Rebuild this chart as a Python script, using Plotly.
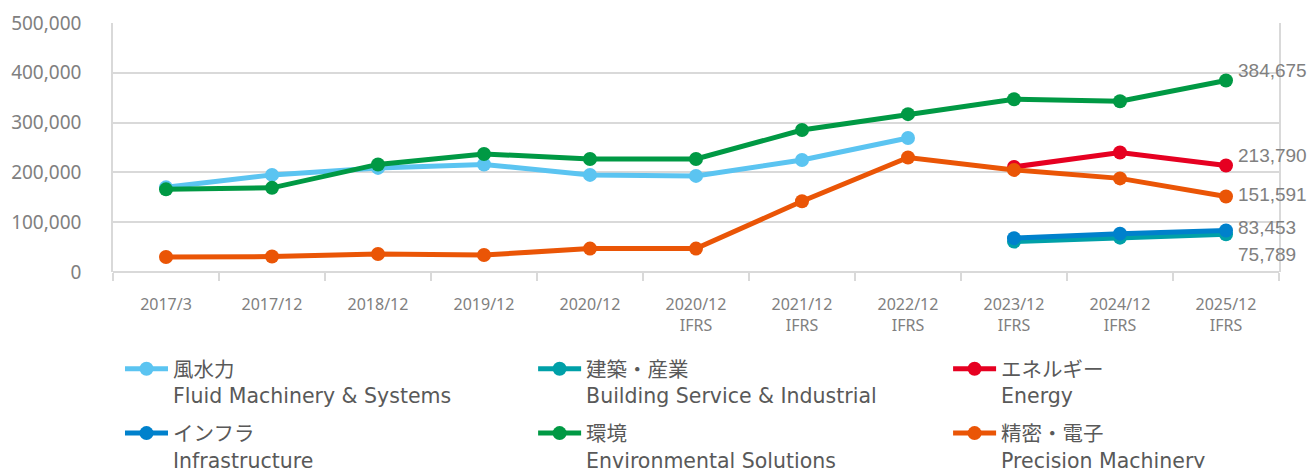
import plotly.graph_objects as go

periods = ["2017/3", "2017/12", "2018/12", "2019/12", "2020/12", "2020/12 IFRS",
           "2021/12", "2022/12", "2023/12", "2024/12", "2025/12"]
tick_text = ["2017/3", "2017/12", "2018/12", "2019/12", "2020/12", "2020/12<br>IFRS",
             "2021/12<br>IFRS", "2022/12<br>IFRS", "2023/12<br>IFRS", "2024/12<br>IFRS", "2025/12<br>IFRS"]

fluid = [170000, 195000, 209000, 216000, 195000, 193000, 225000, 269000, None, None, None]
building = [None] * 8 + [61000, 69000, 75789]
energy = [None] * 8 + [211000, 240000, 213790]
infra = [None] * 8 + [68000, 77000, 83453]
environ = [166000, 169000, 216000, 237000, 227000, 227000, 285000, 317000, 347000, 343000, 384675]
precision = [30000, 31000, 36000, 34000, 47000, 47000, 142000, 230000, 205000, 188000, 151591]

# name, values, colour, legend column
series = [
    ("風水力<br>Fluid Machinery & Systems", fluid, "#5BC4F1", "legend"),
    ("建築・産業<br>Building Service & Industrial", building, "#00A0A8", "legend2"),
    ("エネルギー<br>Energy", energy, "#E60021", "legend3"),
    ("インフラ<br>Infrastructure", infra, "#0081CC", "legend"),
    ("環境<br>Environmental Solutions", environ, "#009944", "legend2"),
    ("精密・電子<br>Precision Machinery", precision, "#EA5506", "legend3"),
]

# end-of-line labels: (value, vertical nudge in px)
end_labels = [(384675, 10), (213790, 10), (151591, 2), (83453, 3), (75789, -20)]

fig = go.Figure()
for name, vals, col, leg in series:
    fig.add_trace(go.Scatter(x=periods, y=vals, name=name, mode="lines+markers", legend=leg,
                             legendgroup=name, line=dict(color=col, width=5),
                             marker=dict(color=col, size=14), connectgaps=False))

for v, dy in end_labels:
    fig.add_annotation(x=periods[-1], y=v, text=f"{v:,}", showarrow=False, xanchor="left",
                       xshift=10, yshift=dy, font=dict(family="Liberation Sans, Arial", size=19, color="#808080"))

leg_style = dict(orientation="v", yref="container", y=0.2587, xanchor="left", yanchor="top",
                 valign="top", itemwidth=43, tracegroupgap=8, bgcolor="rgba(0,0,0,0)",
                 font=dict(family="DejaVu Sans, Noto Sans CJK JP, sans-serif", size=20.5, color="#595959"))

grid = "#D9D9D9"
# page body has an 8px margin, so the figure is 8px smaller than the window
fig.update_layout(
    width=1308, height=460, margin=dict(l=105, r=37, t=15, b=196, autoexpand=False),
    plot_bgcolor="white", paper_bgcolor="white",
    font=dict(family="Noto Sans, Noto Sans CJK JP, sans-serif", color="#808080"),
    showlegend=True,
    legend=dict(x=0.006, **leg_style),
    legend2=dict(x=0.3603, **leg_style),
    legend3=dict(x=0.7162, **leg_style),
)
fig.update_xaxes(type="category", categoryorder="array", categoryarray=periods,
                 tickvals=periods, ticktext=tick_text, range=[-0.5, 10.5], automargin=False,
                 showgrid=False, tickson="boundaries", ticks="outside", ticklen=8,
                 tickcolor=grid, tickwidth=1.5, showline=False, zeroline=False,
                 tickfont=dict(size=16, color="#808080"), ticklabelstandoff=21)
fig.update_yaxes(range=[0, 500000], dtick=100000, tickformat=",", showgrid=True, automargin=False,
                 gridcolor=grid, gridwidth=1.5, showline=True, linecolor=grid, linewidth=1.5,
                 mirror=True, zeroline=True, zerolinecolor=grid, zerolinewidth=1.5,
                 tickfont=dict(size=19, color="#808080"), ticklabelstandoff=26)

fig.write_html("out.html")
